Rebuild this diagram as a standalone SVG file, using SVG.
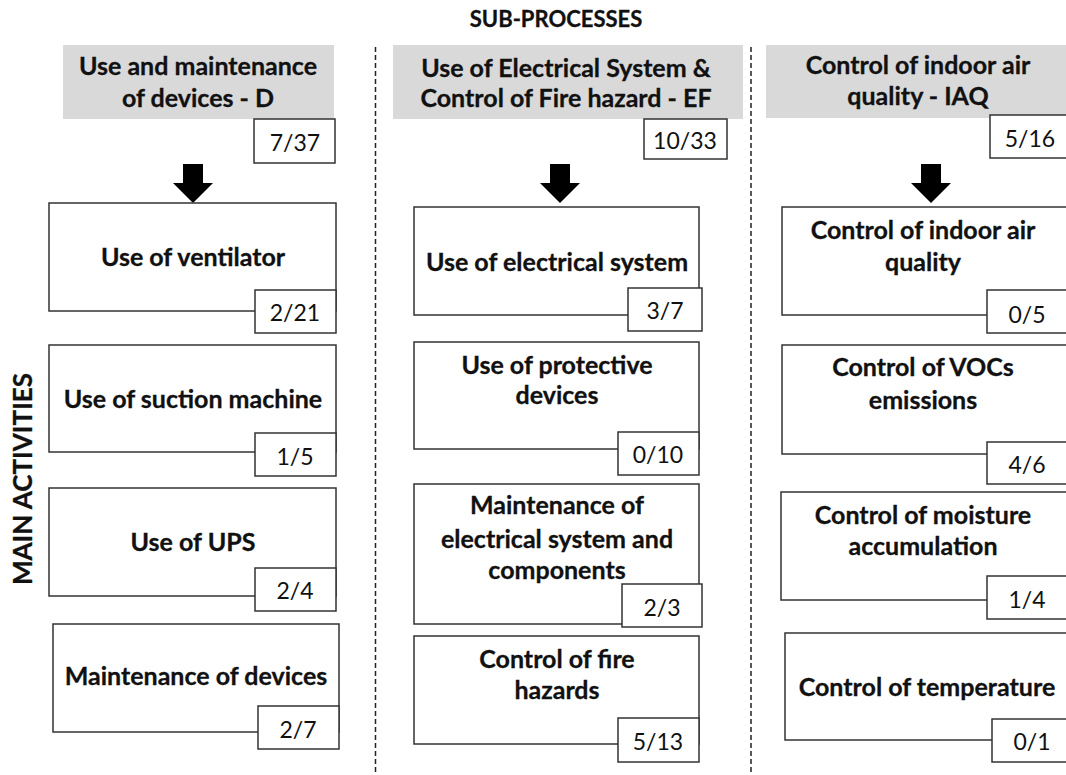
<svg xmlns="http://www.w3.org/2000/svg" width="1066" height="775" viewBox="0 0 1066 775">
<style>
.hdr{fill:#d9d9d9;stroke:none}
.box{fill:#fff;stroke:#333;stroke-width:1.5}
.t{font-family:Lato,"Liberation Sans",sans-serif;font-weight:bold;font-size:25px;fill:#111;text-anchor:middle;stroke:#111;stroke-width:0.3}
.n{font-family:Lato,"Liberation Sans",sans-serif;font-size:23px;fill:#111;text-anchor:middle}
.div{stroke:#222;stroke-width:1.5;stroke-dasharray:5 3;fill:none}
.arr{fill:#000}
</style>
<rect width="1066" height="775" fill="#fff"/>
<text class="t" x="556" y="27" style="font-size:22px">SUB-PROCESSES</text>
<text class="t" transform="translate(32,479) rotate(-90)" style="font-size:26px">MAIN ACTIVITIES</text>
<g id="dividers">
<line class="div" x1="375.5" y1="47" x2="375.5" y2="772"/>
<line class="div" x1="751" y1="47" x2="751" y2="772"/>
</g>
<g id="connectors">
<path class="arr" d="M183,164H203V183H213L193,203L173,183H183Z"/>
<path class="arr" d="M550,164H570V183H580L560,203L540,183H550Z"/>
<path class="arr" d="M921,164H941V183H951L931,203L911,183H921Z"/>
</g>
<g id="D">
<rect class="hdr" x="63" y="45" width="271" height="74"/>
<text class="t" x="198" y="75">Use and maintenance</text>
<text class="t" x="198" y="107">of devices - D</text>
<rect class="box" x="254" y="119" width="81" height="44"/>
<text class="n" x="295" y="151">7/37</text>
</g>
<g id="EF">
<rect class="hdr" x="393" y="45" width="350" height="74"/>
<text class="t" x="566" y="77">Use of Electrical System &amp;</text>
<text class="t" x="566" y="107">Control of Fire hazard - EF</text>
<rect class="box" x="644" y="119" width="83" height="40"/>
<text class="n" x="685" y="149">10/33</text>
</g>
<g id="IAQ">
<rect class="hdr" x="766" y="45" width="302" height="73"/>
<text class="t" x="918" y="74">Control of indoor air</text>
<text class="t" x="918" y="105">quality - IAQ</text>
<rect class="box" x="990" y="115" width="80" height="43"/>
<text class="n" x="1030" y="147">5/16</text>
</g>
<g id="D1">
<rect class="box" x="49" y="203" width="287" height="108"/>
<text class="t" x="193" y="266">Use of ventilator</text>
<rect class="box" x="255" y="290" width="81" height="43"/>
<text class="n" x="295" y="321">2/21</text>
</g>
<g id="D2">
<rect class="box" x="49" y="345" width="287" height="107"/>
<text class="t" x="193" y="408">Use of suction machine</text>
<rect class="box" x="255" y="433" width="81" height="43"/>
<text class="n" x="295" y="465">1/5</text>
</g>
<g id="D3">
<rect class="box" x="49" y="488" width="287" height="108"/>
<text class="t" x="193" y="551">Use of UPS</text>
<rect class="box" x="255" y="568" width="81" height="43"/>
<text class="n" x="295" y="599">2/4</text>
</g>
<g id="D4">
<rect class="box" x="53" y="624" width="286" height="108"/>
<text class="t" x="196" y="685">Maintenance of devices</text>
<rect class="box" x="258" y="706" width="81" height="43"/>
<text class="n" x="298" y="738">2/7</text>
</g>
<g id="EF1">
<rect class="box" x="414" y="207" width="285" height="108"/>
<text class="t" x="557" y="271">Use of electrical system</text>
<rect class="box" x="628" y="288" width="74" height="43"/>
<text class="n" x="665" y="319">3/7</text>
</g>
<g id="EF2">
<rect class="box" x="414" y="342" width="285" height="107"/>
<text class="t" x="557" y="374">Use of protective</text>
<text class="t" x="557" y="404">devices</text>
<rect class="box" x="618" y="432" width="81" height="43"/>
<text class="n" x="658" y="463">0/10</text>
</g>
<g id="EF3">
<rect class="box" x="414" y="484" width="285" height="140"/>
<text class="t" x="557" y="514">Maintenance of</text>
<text class="t" x="557" y="548">electrical system and</text>
<text class="t" x="557" y="579">components</text>
<rect class="box" x="622" y="584" width="80" height="43"/>
<text class="n" x="662" y="616">2/3</text>
</g>
<g id="EF4">
<rect class="box" x="414" y="636" width="285" height="108"/>
<text class="t" x="557" y="668">Control of fire</text>
<text class="t" x="557" y="699">hazards</text>
<rect class="box" x="618" y="718" width="81" height="44"/>
<text class="n" x="658" y="750">5/13</text>
</g>
<g id="IAQ1">
<rect class="box" x="782" y="207" width="290" height="108"/>
<text class="t" x="923" y="239">Control of indoor air</text>
<text class="t" x="923" y="271">quality</text>
<rect class="box" x="987" y="290" width="85" height="43"/>
<text class="n" x="1027" y="323">0/5</text>
</g>
<g id="IAQ2">
<rect class="box" x="782" y="345" width="290" height="109"/>
<text class="t" x="923" y="376">Control of VOCs</text>
<text class="t" x="923" y="409">emissions</text>
<rect class="box" x="987" y="442" width="85" height="42"/>
<text class="n" x="1027" y="473">4/6</text>
</g>
<g id="IAQ3">
<rect class="box" x="781" y="492" width="291" height="108"/>
<text class="t" x="923" y="524">Control of moisture</text>
<text class="t" x="923" y="555">accumulation</text>
<rect class="box" x="987" y="576" width="85" height="43"/>
<text class="n" x="1027" y="608">1/4</text>
</g>
<g id="IAQ4">
<rect class="box" x="785" y="633" width="287" height="107"/>
<text class="t" x="927" y="696">Control of temperature</text>
<rect class="box" x="992" y="719" width="80" height="43"/>
<text class="n" x="1032" y="750">0/1</text>
</g>
</svg>
